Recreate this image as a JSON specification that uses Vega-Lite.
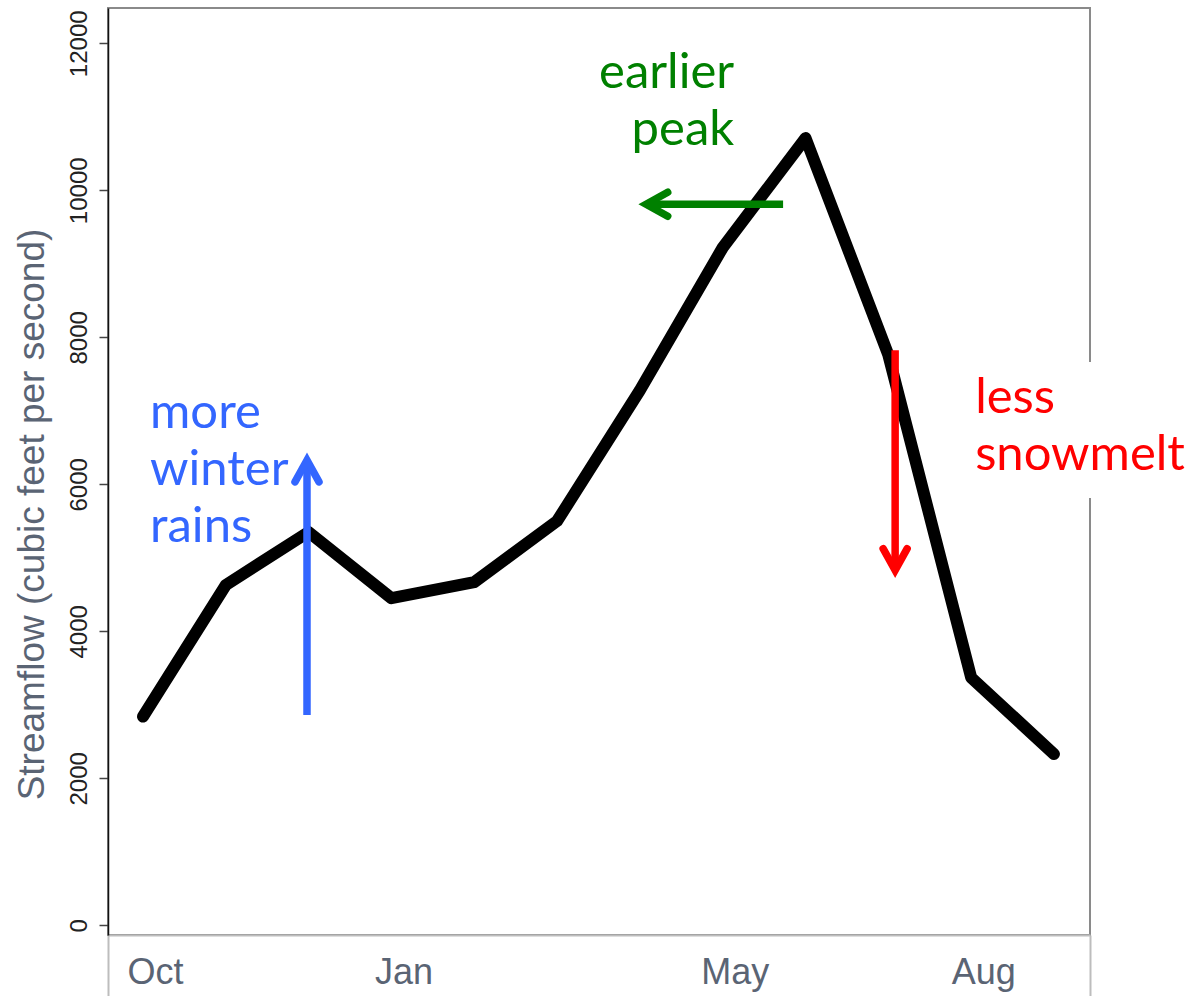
{
  "$schema": "https://vega.github.io/schema/vega-lite/v6.json",
  "width": 982,
  "height": 927,
  "autosize": {"type": "none"},
  "padding": {"left": 108, "top": 8, "right": 102, "bottom": 61},
  "background": "white",
  "config": {"view": {"stroke": "#8a8a8a", "strokeWidth": 2}},
  "datasets": {
    "flow": [
      {"month": "Oct", "i": 0, "flow": 2840},
      {"month": "Nov", "i": 1, "flow": 4630},
      {"month": "Dec", "i": 2, "flow": 5350},
      {"month": "Jan", "i": 3, "flow": 4450},
      {"month": "Feb", "i": 4, "flow": 4670},
      {"month": "Mar", "i": 5, "flow": 5500},
      {"month": "Apr", "i": 6, "flow": 7280},
      {"month": "May", "i": 7, "flow": 9220},
      {"month": "Jun", "i": 8, "flow": 10710},
      {"month": "Jul", "i": 9, "flow": 7760},
      {"month": "Aug", "i": 10, "flow": 3370},
      {"month": "Sep", "i": 11, "flow": 2330}
    ],
    "notes": [
      {"which": "winter", "i": 0.085, "flow": 6762, "label": "more\nwinter\nrains"},
      {"which": "peak", "i": 7.138, "flow": 11388, "label": "earlier\npeak"},
      {"which": "snowmelt", "i": 10.048, "flow": 6966, "label": "less\nsnowmelt"}
    ],
    "shafts": [
      {"which": "winter", "i": 1.98, "i2": 1.98, "flow": 2860, "flow2": 6300},
      {"which": "peak", "i": 7.729, "i2": 6.09, "flow": 9810, "flow2": 9810},
      {"which": "snowmelt", "i": 9.082, "i2": 9.082, "flow": 7823, "flow2": 4840}
    ],
    "heads": [
      {"which": "winter", "i": 1.98, "flow": 6327},
      {"which": "peak", "i": 6.075, "flow": 9810},
      {"which": "snowmelt", "i": 9.082, "flow": 4830}
    ],
    "mask": [
      {"i": 9.93, "i2": 12.64, "flow": 5814, "flow2": 7664}
    ]
  },
  "encoding": {
    "x": {
      "field": "i",
      "type": "quantitative",
      "scale": {"domain": [-0.423, 11.435], "nice": false, "zero": false},
      "axis": {
        "title": null,
        "values": [-0.423, 0, 3, 7, 10, 11.435],
        "labelExpr": "datum.value == 0 ? 'Oct' : datum.value == 3 ? 'Jan' : datum.value == 7 ? 'May' : datum.value == 10 ? 'Aug' : ''",
        "labelOffset": 12,
        "labelFont": "Liberation Sans",
        "labelFontSize": 36,
        "labelColor": "#5a6474",
        "labelBaseline": "alphabetic",
        "labelPadding": -13,
        "labelFlush": false,
        "labelOverlap": false,
        "labelBound": false,
        "tickSize": 61,
        "tickWidth": 2,
        "tickColor": {"condition": {"test": "datum.value < -0.4 || datum.value > 11.4", "value": "#bdbdbd"}, "value": "transparent"},
        "domainColor": "#bdbdbd",
        "domainWidth": 2,
        "grid": false
      }
    },
    "y": {
      "field": "flow",
      "type": "quantitative",
      "scale": {"domain": [-132, 12480], "nice": false, "zero": false},
      "axis": {
        "title": "Streamflow (cubic feet per second)",
        "titleFont": "Liberation Sans",
        "titleFontSize": 37,
        "titleFontWeight": "normal",
        "titleColor": "#5a6474",
        "titleAngle": 270,
        "titleAlign": "center",
        "titleBaseline": "alphabetic",
        "titleX": -65,
        "titleY": 506,
        "values": [0, 2000, 4000, 6000, 8000, 10000, 12000],
        "format": "d",
        "labelAngle": 270,
        "labelAlign": "center",
        "labelBaseline": "alphabetic",
        "labelPadding": 13,
        "labelFont": "Liberation Sans",
        "labelFontSize": 24,
        "labelColor": "#222222",
        "labelFlush": false,
        "labelOverlap": false,
        "tickSize": 9,
        "tickWidth": 1.5,
        "tickColor": "#444444",
        "domainColor": "#111111",
        "domainWidth": 1.5,
        "grid": false
      }
    }
  },
  "layer": [
    {
      "data": {"name": "mask"},
      "mark": {"type": "rect", "fill": "white", "stroke": null},
      "encoding": {
        "x2": {"field": "i2"},
        "y2": {"field": "flow2"}
      }
    },
    {
      "data": {"name": "flow"},
      "mark": {"type": "line", "color": "black", "strokeWidth": 12, "strokeCap": "round", "strokeJoin": "round"},
      "encoding": {}
    },
    {
      "data": {"name": "shafts"},
      "mark": {"type": "rule", "strokeWidth": 7.5, "strokeCap": "butt"},
      "encoding": {
        "x2": {"field": "i2"},
        "y2": {"field": "flow2"},
        "color": {"field": "which", "type": "nominal", "scale": {"domain": ["winter", "peak", "snowmelt"], "range": ["#3366ff", "#008000", "#ff0000"]}, "legend": null}
      }
    },
    {
      "data": {"name": "heads"},
      "transform": [{"filter": "datum.which == 'winter'"}],
      "mark": {"type": "point", "shape": "M-1,1.8L0,0L1,1.8", "size": 576, "filled": false, "strokeWidth": 7.5, "strokeCap": "round", "strokeJoin": "miter", "angle": 0, "opacity": 1},
      "encoding": {
        "color": {"field": "which", "type": "nominal", "legend": null}
      }
    },
    {
      "data": {"name": "heads"},
      "transform": [{"filter": "datum.which == 'peak'"}],
      "mark": {"type": "point", "shape": "M-1,1.8L0,0L1,1.8", "size": 576, "filled": false, "strokeWidth": 7.5, "strokeCap": "round", "strokeJoin": "miter", "angle": 270, "opacity": 1},
      "encoding": {
        "color": {"field": "which", "type": "nominal", "legend": null}
      }
    },
    {
      "data": {"name": "heads"},
      "transform": [{"filter": "datum.which == 'snowmelt'"}],
      "mark": {"type": "point", "shape": "M-1,1.8L0,0L1,1.8", "size": 576, "filled": false, "strokeWidth": 7.5, "strokeCap": "round", "strokeJoin": "miter", "angle": 180, "opacity": 1},
      "encoding": {
        "color": {"field": "which", "type": "nominal", "legend": null}
      }
    },
    {
      "data": {"name": "notes"},
      "transform": [{"filter": "datum.which != 'peak'"}],
      "mark": {"type": "text", "align": "left", "baseline": "alphabetic", "font": "Lato", "fontSize": 49, "lineHeight": 57, "lineBreak": "\n"},
      "encoding": {
        "text": {"field": "label"},
        "color": {"field": "which", "type": "nominal", "legend": null}
      }
    },
    {
      "data": {"name": "notes"},
      "transform": [{"filter": "datum.which == 'peak'"}],
      "mark": {"type": "text", "align": "right", "baseline": "alphabetic", "font": "Lato", "fontSize": 49, "lineHeight": 57, "lineBreak": "\n"},
      "encoding": {
        "text": {"field": "label"},
        "color": {"field": "which", "type": "nominal", "legend": null}
      }
    }
  ]
}
